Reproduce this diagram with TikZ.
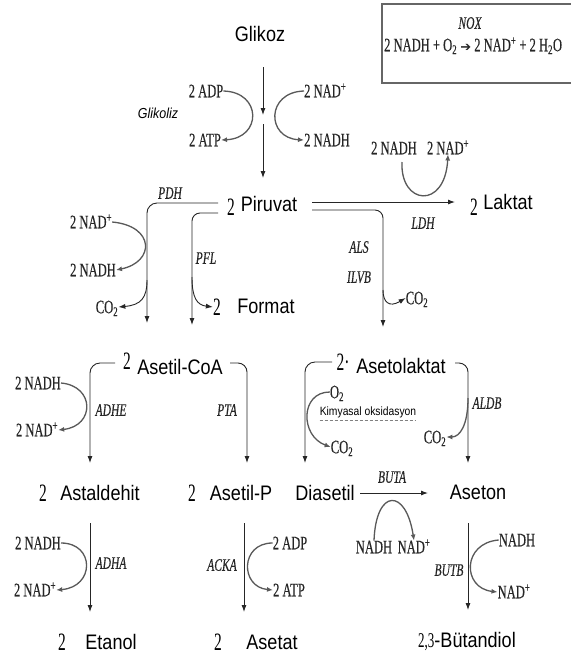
\documentclass[tikz,border=0pt]{standalone}
\usepackage{fontspec}
\setmainfont{Liberation Serif}
\newfontfamily\labsans[FakeStretch=0.86]{Liberation Sans}
\newfontfamily\labcond[FakeStretch=0.66,FakeBold=0.3]{Liberation Serif}
\newfontfamily\labnum[FakeStretch=0.62]{Liberation Serif}
\newfontfamily\arrowfont{DejaVu Sans}
\usetikzlibrary{arrows.meta}
\tikzset{
 mol/.style={font=\labsans\fontsize{21}{23}\selectfont, inner sep=0pt, text height=15pt, text depth=0pt},
 coef/.style={font=\labnum\fontsize{25}{26}\selectfont, inner sep=0pt, text height=17pt, text depth=0pt},
 cof/.style={font=\labcond\fontsize{19}{21}\selectfont, inner sep=0pt, text height=12.5pt, text depth=0pt, text=black!85},
 enz/.style={font=\labcond\itshape\fontsize{17.5}{19}\selectfont, inner sep=0pt, text height=11.5pt, text depth=0pt, text=black!85},
 note/.style={font=\labsans\fontsize{12}{13}\selectfont, inner sep=0pt, text height=8.5pt, text depth=2pt},
 flow/.style={draw=black!85, line width=0.9pt, -{Latex[length=7pt,width=5pt]}},
 cyc/.style={draw=black!65, line width=1.3pt, -{Latex[length=6pt,width=5pt]}},
 noxbox/.style={draw=black!60, line width=1.6pt},
}
\begin{document}
\begin{tikzpicture}[x=1pt,y=-1pt]
\clip (0,0) rectangle (571,657);
\fill[white] (0,0) rectangle (571,657);

% ---------- NOX box ----------
\draw[noxbox] (575,4) -- (382,4) -- (382,83) -- (575,83);
\node[enz] (nox) at (470,23) {NOX};
\node[cof, anchor=west] (noxeq) at (384,45) {2 NADH + O\textsubscript{2} {\arrowfont\fontsize{13}{14}\selectfont ➔} 2 NAD\textsuperscript{+} + 2 H\textsubscript{2}O};

% ---------- molecules ----------
\node[mol] (glc) at (260,34) {Glikoz};
\node[mol] (pyr) at (269,204) {Piruvat};
\node[coef] (pyr2) at (231,207) {2};
\node[mol] (lac) at (508,202) {Laktat};
\node[coef] (lac2) at (474,207) {2};
\node[mol] (for) at (266,306) {Format};
\node[coef] (for2) at (217,307) {2};
\node[mol] (aco) at (180,367) {Asetil-CoA};
\node[coef] (aco2) at (127,361) {2};
\node[mol] (alac) at (401,366) {Asetolaktat};
\node[coef] (alac2) at (343,362) {2·};
\node[mol] (ald) at (100,493) {Astaldehit};
\node[coef] (ald2) at (43,493) {2};
\node[mol] (acp) at (241,493) {Asetil-P};
\node[coef] (acp2) at (192,493) {2};
\node[mol] (dia) at (325,493) {Diasetil};
\node[mol] (ace) at (478,492) {Aseton};
\node[mol] (eth) at (111,642) {Etanol};
\node[coef] (eth2) at (62,642) {2};
\node[mol] (act) at (272,642) {Asetat};
\node[coef] (act2) at (218,642) {2};
\node[mol] (but) at (467,640) {{\labnum 2,3}-Bütandiol};

% ---------- enzymes ----------
\node[font=\labsans\itshape\fontsize{14.5}{16}\selectfont, inner sep=0pt] (glyk) at (158,113) {Glikoliz};
\node[enz] (pdh) at (170,193) {PDH};
\node[enz] (pfl) at (206,258) {PFL};
\node[enz] (ldh) at (423,223) {LDH};
\node[enz] (als) at (359,247) {ALS};
\node[enz] (ilvb) at (359,277) {ILVB};
\node[enz] (adhe) at (111,410) {ADHE};
\node[enz] (pta) at (227,410) {PTA};
\node[enz] (aldb) at (487,403) {ALDB};
\node[enz] (buta) at (392,477) {BUTA};
\node[enz] (adha) at (111,563) {ADHA};
\node[enz] (acka) at (222,565) {ACKA};
\node[enz] (butb) at (449,570) {BUTB};

% ---------- cofactors ----------
\node[cof] (gadp) at (206,91) {2 ADP};
\node[cof] (gatp) at (205,140) {2 ATP};
\node[cof, anchor=west] (gnad) at (304,91) {2 NAD\textsuperscript{+}};
\node[cof, anchor=west] (gnadh) at (304,140) {2 NADH};
\node[cof] (pnad) at (91,222) {2 NAD\textsuperscript{+}};
\node[cof] (pnadh) at (93,270) {2 NADH};
\node[cof] (pco) at (107,307) {CO\textsubscript{2}};
\node[cof] (lnadh) at (394,148) {2 NADH};
\node[cof] (lnad) at (448,148) {2 NAD\textsuperscript{+}};
\node[cof] (aco2b) at (417,298) {CO\textsubscript{2}};
\node[cof] (enadh) at (38,383) {2 NADH};
\node[cof] (enad) at (37,430) {2 NAD\textsuperscript{+}};
\node[cof] (oxy) at (337,392) {O\textsubscript{2}};
\node[note] (kim) at (368,412) {Kimyasal oksidasyon};
\node[cof] (kco) at (342,447) {CO\textsubscript{2}};
\node[cof] (dco) at (435,437) {CO\textsubscript{2}};
\node[cof] (bnadh) at (374,547) {NADH};
\node[cof] (bnad) at (414,547) {NAD\textsuperscript{+}};
\node[cof] (cnadh) at (517,540) {NADH};
\node[cof] (cnad) at (514,592) {NAD\textsuperscript{+}};
\node[cof] (hnadh) at (38,543) {2 NADH};
\node[cof] (hnad) at (35,590) {2 NAD\textsuperscript{+}};
\node[cof] (kadp) at (290,543) {2 ADP};
\node[cof] (katp) at (289,590) {2 ATP};

% ---------- coordinates ----------
\coordinate (g0) at (263,67);
\coordinate (g1) at (263,115);
\coordinate (g1b) at (263,124);
\coordinate (g2) at (263,178);
\coordinate (pdhS) at (218,203);
\coordinate (pdhK) at (147,203);
\coordinate (pdhE) at (147,323);
\coordinate (pflS) at (218,213);
\coordinate (pflK) at (192,213);
\coordinate (pflE) at (192,325);
\coordinate (ldhS) at (312,202);
\coordinate (ldhE) at (455,202);
\coordinate (alsS) at (312,210);
\coordinate (alsK) at (383,210);
\coordinate (alsE) at (383,327);
\coordinate (acoLS) at (115,363);
\coordinate (acoLK) at (90,363);
\coordinate (acoLE) at (90,463);
\coordinate (acoRS) at (230,363);
\coordinate (acoRK) at (247,363);
\coordinate (acoRE) at (247,463);
\coordinate (alLS) at (332,362);
\coordinate (alLK) at (305,362);
\coordinate (alLE) at (305,463);
\coordinate (alRS) at (455,363);
\coordinate (alRK) at (468,363);
\coordinate (alRE) at (468,463);
\coordinate (butaS) at (360,493);
\coordinate (butaE) at (428,493);
\coordinate (butbS) at (468,523);
\coordinate (butbE) at (468,610);
\coordinate (adhaS) at (90,523);
\coordinate (adhaE) at (90,612);
\coordinate (ackaS) at (244,523);
\coordinate (ackaE) at (244,612);

% ---------- main flow ----------
\draw[flow] (g0) -- (g1);
\draw[flow] (g1b) -- (g2);
\draw[flow, rounded corners=10pt] (pdhS) -- (pdhK) -- (pdhE);
\draw[flow, rounded corners=8pt] (pflS) -- (pflK) -- (pflE);
\draw[flow] (ldhS) -- (ldhE);
\draw[flow, rounded corners=8pt] (alsS) -- (alsK) -- (alsE);
\draw[flow, rounded corners=10pt] (acoLS) -- (acoLK) -- (acoLE);
\draw[flow, rounded corners=9pt] (acoRS) -- (acoRK) -- (acoRE);
\draw[flow, rounded corners=10pt] (alLS) -- (alLK) -- (alLE);
\draw[flow, rounded corners=9pt] (alRS) -- (alRK) -- (alRE);
\draw[flow] (butaS) -- (butaE);
\draw[flow] (butbS) -- (butbE);
\draw[flow] (adhaS) -- (adhaE);
\draw[flow] (ackaS) -- (ackaE);

% branches to side products
\draw[flow] (192,277) .. controls (192,298) and (197,305) .. (for2.west);
\draw[flow] (147,280) .. controls (147,298) and (141,305) .. (pco.east);
\draw[flow] (383,290) .. controls (383,302) and (389,308) .. (aco2b.west);
\draw[cyc] (468,398) .. controls (468,425) and (460,437) .. (dco.east);

% ---------- cofactor curves ----------
\draw[cyc] (gadp.east) .. controls (262,92) and (262,138) .. (gatp.east);
\draw[cyc] (gnad.west) .. controls (266,92) and (266,138) .. (gnadh.west);
\draw[cyc] (pnad.east) .. controls (155,226) and (155,262) .. (pnadh.east);
\draw[cyc] (402,162) .. controls (400,205) and (445,210) .. (lnad.south);
\draw[cyc] (enadh.east) .. controls (95,386) and (95,426) .. (enad.east);
\draw[cyc] (oxy.west) .. controls (300,392) and (300,436) .. (kco.west);
\draw[cyc] (bnadh.north) .. controls (376,488) and (406,488) .. (bnad.north);
\draw[cyc] (cnadh.west) .. controls (462,543) and (462,588) .. (cnad.west);
\draw[cyc] (hnadh.east) .. controls (95,543) and (95,587) .. (hnad.east);
\draw[cyc] (kadp.west) .. controls (240,543) and (240,587) .. (katp.west);

\draw[black!50, line width=0.5pt, dash pattern=on 3pt off 2pt] (kim.south west) ++(0,3) coordinate (kd1) -- (kd1 -| kim.south east);
\end{tikzpicture}
\end{document}
